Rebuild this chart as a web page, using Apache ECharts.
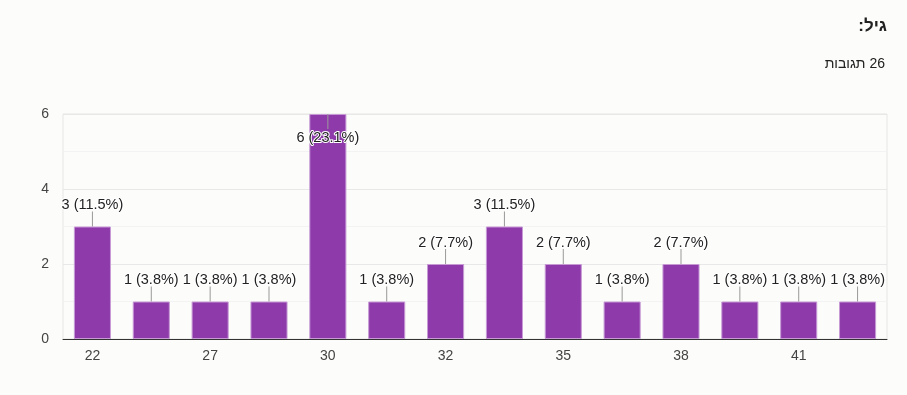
<!DOCTYPE html>
<html><head><meta charset="utf-8">
<script src="https://cdn.jsdelivr.net/npm/echarts@6/dist/echarts.min.js"></script>
<style>html,body{margin:0;padding:0;background:#fcfcfa;}#c{width:907px;height:395px;}</style>
</head><body><div id="c"></div>
<script>
const categories = ['22','25','27','28','30','31','32','33','35','36','38','40','41','45'];
const counts = [3,1,1,1,6,1,2,3,2,1,2,1,1,1];
const yTicks = [0,2,4,6];
const total = 26;
const title = 'גיל:';
const subtitle = '26 תגובות';
const rtl = (s) => '\u202B' + s + '\u202C';

const chart = echarts.init(document.getElementById('c'));
const data = counts.map((v) => {
  const d = {value: v};
  if (v === 6) {
    d.label = {position: 'insideTop', distance: 16};
  }
  return d;
});
chart.setOption({
  backgroundColor: '#fcfcfa',
  animation: false,
  textStyle: {fontFamily: 'Liberation Sans, Arial, sans-serif'},
  title: [
    {text: rtl(title), right: 15, top: 13, textStyle: {fontSize: 17, fontWeight: 'bold', color: '#212121', fontFamily: 'Liberation Sans, Arial'}},
    {text: rtl(subtitle), right: 17, top: 52, textStyle: {fontSize: 14, fontWeight: 'normal', color: '#212121', fontFamily: 'Liberation Sans, Arial'}}
  ],
  grid: {left: 63, right: 20, top: 114, bottom: 56, show: true, borderColor: '#e6e6e6', borderWidth: 1, backgroundColor: 'transparent'},
  xAxis: {
    type: 'category', data: categories,
    axisLine: {lineStyle: {color: '#333', width: 1}},
    axisTick: {show: false},
    axisLabel: {interval: 1, color: '#444', fontSize: 14, margin: 10}
  },
  yAxis: {
    type: 'value', min: 0, max: 6, interval: 2,
    axisLine: {show: false}, axisTick: {show: false},
    axisLabel: {color: '#444', fontSize: 14, margin: 14, formatter: (v) => yTicks.includes(v) ? String(v) : ''},
    splitLine: {lineStyle: {color: '#e8e8e8'}},
    minorTick: {show: false, splitNumber: 2},
    minorSplitLine: {show: true, lineStyle: {color: '#f3f3f3'}}
  },
  series: [{
    type: 'bar', data: data, barWidth: '63%',
    itemStyle: {color: '#8e3aaa', borderColor: '#c79ad6', borderWidth: 1},
    label: {
      show: true, position: 'top', distance: 14, color: '#222', fontSize: 14.5,
      textBorderColor: '#fff', textBorderWidth: 2,
      formatter: (p) => p.value + ' (' + (p.value / total * 100).toFixed(1) + '%)'
    }
  }]
});
function drawLines() {
  const g = [];
  counts.forEach((v, i) => {
    const top = chart.convertToPixel({xAxisIndex: 0, yAxisIndex: 0}, [i, v]);
    const dir = v === 6 ? 1 : -1;
    g.push({type: 'line', shape: {x1: top[0], y1: top[1], x2: top[0], y2: top[1] + dir * 15}, style: {stroke: '#999', lineWidth: 1}, z: 5});
  });
  chart.setOption({graphic: g});
}
drawLines();
</script></body></html>
